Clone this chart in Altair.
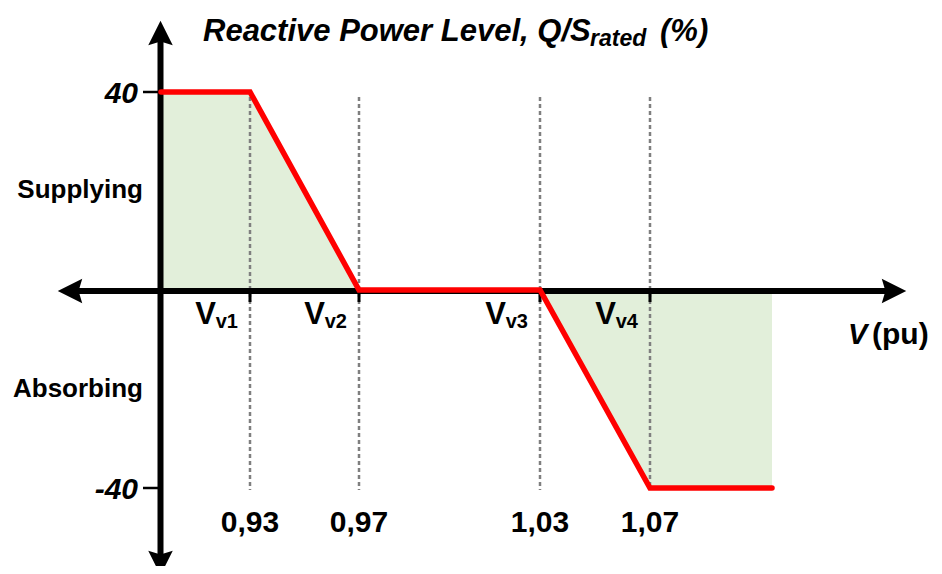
import altair as alt
import pandas as pd

# ---- data ----
V = [0.90, 0.93, 0.97, 1.03, 1.07, 1.11]
Q = [40, 40, 0, 0, -40, -40]
breaks = [0.93, 0.97, 1.03, 1.07]
break_labels = ["0,93", "0,97", "1,03", "1,07"]
vv_main = ["V", "V", "V", "V"]
vv_sub = ["v1", "v2", "v3", "v4"]
y_ticks = [40, -40]
y_tick_labels = ["40", "-40"]

OFF = 8
def px(v):
    return v - OFF

FONT = "Liberation Sans"

curve = pd.DataFrame({"V": V, "Q": Q, "zero": [0] * len(V)})
brk = pd.DataFrame({"V": breaks, "label": break_labels, "main": vv_main, "sub": vv_sub})
yt = pd.DataFrame({"Q": y_ticks, "label": y_tick_labels})

xs = alt.Scale(domain=[0.90, 0.93, 0.97, 1.03, 1.07, 1.11],
               range=[px(161), px(250), px(359), px(540), px(650), px(772)])
ys = alt.Scale(domain=[-40, 40], range=[px(488), px(92)])

X = alt.X("V:Q", scale=xs, axis=None)
Y = alt.Y("Q:Q", scale=ys, axis=None)

area = alt.Chart(curve).mark_area(color="#e2efda", opacity=1).encode(
    x=X, y=Y, y2=alt.Y2("zero:Q"))

dashed = alt.Chart(brk).mark_rule(color="#7f7f7f", strokeWidth=2.5, strokeDash=[4, 3]).encode(
    x=X, y=alt.value(px(97)), y2=alt.value(px(490)))

one = pd.DataFrame({"a": [0]})
x_axis = alt.Chart(one).mark_rule(color="black", strokeWidth=6).encode(
    x=alt.value(px(72)), x2=alt.value(px(893)), y=alt.value(px(291)))
y_axis = alt.Chart(one).mark_rule(color="black", strokeWidth=6).encode(
    x=alt.value(px(160.5)), y=alt.value(px(36)), y2=alt.value(px(562)))

ARROW = "M0,-1 L1,1 L0,0.7 L-1,1 Z"
arrows_df = pd.DataFrame({
    "ax": [px(160.5), px(160.5), px(70), px(894)],
    "ay": [px(33), px(563), px(291), px(291)],
    "ang": [0, 180, 270, 90],
})
arrows = alt.Chart(arrows_df).mark_point(shape=ARROW, filled=True, color="black",
                                          opacity=1, size=600, strokeWidth=0).encode(
    x=alt.X("ax:Q", scale=None), y=alt.Y("ay:Q", scale=None), angle=alt.Angle("ang:Q", scale=None))

yticks = alt.Chart(yt).mark_rule(color="black", strokeWidth=2.5).encode(
    y=Y, x=alt.value(px(143)), x2=alt.value(px(158)))

xticks = alt.Chart(brk).mark_rule(color="black", strokeWidth=3).encode(
    x=X, y=alt.value(px(293)), y2=alt.value(px(302)))

line = alt.Chart(curve).mark_line(color="#ff0000", strokeWidth=5.5, strokeCap="round",
                                  strokeJoin="miter").encode(x=X, y=Y)

ylab = alt.Chart(yt).mark_text(font=FONT, fontSize=30, fontWeight="bold", fontStyle="italic",
                               align="right", baseline="alphabetic", dy=11).encode(
    y=Y, x=alt.value(px(138)), text="label:N")

side_df = pd.DataFrame({"t": ["Supplying", "Absorbing"], "yy": [px(198), px(397)]})
side = alt.Chart(side_df).mark_text(font=FONT, fontSize=26, fontWeight="bold",
                                    align="right", baseline="alphabetic").encode(
    x=alt.value(px(143)), y=alt.Y("yy:Q", scale=None), text="t:N")

vmain = alt.Chart(brk).mark_text(font=FONT, fontSize=31, fontWeight="bold",
                                 align="right", baseline="alphabetic", dx=-34).encode(
    x=X, y=alt.value(px(324)), text="main:N")
vsub = alt.Chart(brk).mark_text(font=FONT, fontSize=20, fontWeight="bold",
                                align="right", baseline="alphabetic", dx=-12).encode(
    x=X, y=alt.value(px(328)), text="sub:N")

xlab = alt.Chart(brk).mark_text(font=FONT, fontSize=30, fontWeight="bold",
                                align="center", baseline="alphabetic").encode(
    x=X, y=alt.value(px(532)), text="label:N")

title_df = pd.DataFrame({
    "t": ["Reactive Power Level, Q/S", "rated", "(%)"],
    "tx": [px(203), px(590), px(660)],
    "ty": [px(41), px(46), px(41)],
    "fs": [31, 23, 31],
})
title = alt.Chart(title_df).mark_text(font=FONT, fontWeight="bold", fontStyle="italic",
                                      align="left", baseline="alphabetic").encode(
    x=alt.X("tx:Q", scale=None), y=alt.Y("ty:Q", scale=None), text="t:N",
    size=alt.Size("fs:Q", scale=None, legend=None))

vpu1 = alt.Chart(one).mark_text(text="V", font=FONT, fontSize=29, fontWeight="bold",
                                fontStyle="italic", align="left", baseline="alphabetic").encode(
    x=alt.value(px(848)), y=alt.value(px(344)))
vpu2 = alt.Chart(one).mark_text(text="(pu)", font=FONT, fontSize=30, fontWeight="bold",
                                align="left", baseline="alphabetic").encode(
    x=alt.value(px(872)), y=alt.value(px(344)))

chart = alt.layer(
    area, dashed, x_axis, y_axis, arrows, yticks, xticks, line,
    ylab, side, vmain, vsub, xlab, title, vpu1, vpu2
).properties(
    width=926, height=558,
    autosize=alt.AutoSizeParams(type="none"),
    padding=0,
).configure_view(stroke=None)

chart.save("out.html", embed_options={"renderer": "svg", "actions": False})
